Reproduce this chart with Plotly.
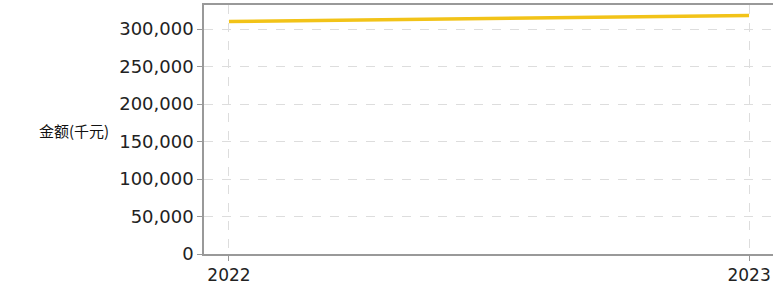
import plotly.graph_objects as go

years = [2022, 2023]
amounts = [310000, 318000]
y_ticks = [0, 50000, 100000, 150000, 200000, 250000, 300000]
y_tick_labels = ["0", "50,000", "100,000", "150,000", "200,000", "250,000", "300,000"]
y_title = "金额(千元)"

fig = go.Figure()
fig.add_trace(go.Scatter(x=years, y=amounts, mode="lines",
                         line=dict(color="#F2C318", width=3.5), showlegend=False))

font = "DejaVu Sans, Verdana, sans-serif"
fig.update_layout(
    width=773, height=291,
    margin=dict(l=204, r=0, t=5, b=37, autoexpand=False),
    paper_bgcolor="white", plot_bgcolor="white",
    font=dict(family=font, size=18, color="#222"),
    xaxis=dict(range=[2021.952, 2023.046], tickvals=years, ticktext=[str(y) for y in years],
               showgrid=True, gridcolor="#DDDDDD", griddash="dash", gridwidth=1,
               showline=True, linecolor="#999999", linewidth=1.5, mirror=True,
               ticks="outside", ticklen=5, tickcolor="#999999", zeroline=False,
               tickfont=dict(size=17, color="#222")),
    yaxis=dict(range=[0, 332000], tickvals=y_ticks, ticktext=y_tick_labels,
               showgrid=True, gridcolor="#DDDDDD", griddash="dash", gridwidth=1,
               showline=True, linecolor="#999999", linewidth=1.5,
               ticks="outside", ticklen=5, tickcolor="#999999", zeroline=False,
               tickfont=dict(size=18, color="#222")),
)
fig.add_annotation(text=y_title, xref="paper", yref="paper", x=-0.229, y=0.495,
                   showarrow=False, xanchor="center", yanchor="middle",
                   font=dict(size=15, color="#111", family="Noto Sans CJK SC, " + font))
fig.write_html("out.html", config={"displayModeBar": False},
               post_script="document.body.style.margin='0';")
